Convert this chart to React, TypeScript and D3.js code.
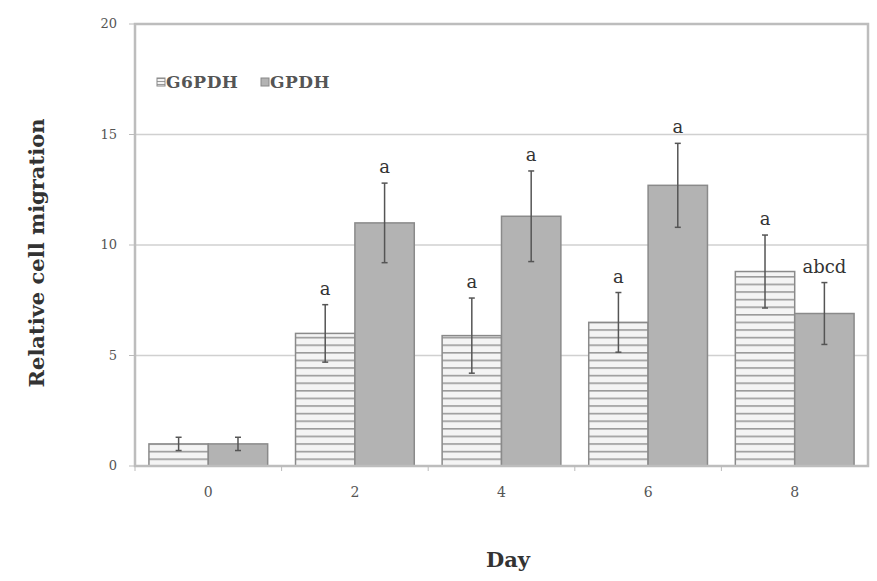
import React from "react";
import * as d3 from "d3";

const days = ["0", "2", "4", "6", "8"];
const g6pdh = [1.0, 6.0, 5.9, 6.5, 8.8];
const g6pdhErr = [0.3, 1.3, 1.7, 1.35, 1.65];
const gpdh = [1.0, 11.0, 11.3, 12.7, 6.9];
const gpdhErr = [0.3, 1.8, 2.05, 1.9, 1.4];
const g6pdhLabels = ["", "a", "a", "a", "a"];
const gpdhLabels = ["", "a", "a", "a", "abcd"];
const yTicks = [0, 5, 10, 15, 20];
const seriesNames = ["G6PDH", "GPDH"];

const W = 877;
const H = 581;
const left = 135;
const right = 868;
const top = 24;
const bottom = 466;
const serif = "'DejaVu Serif', 'Liberation Serif', serif";

export default function App() {
  const x = d3.scaleBand<string>().domain(days).range([left, right]).paddingInner(0.19).paddingOuter(0.095);
  const sub = d3.scaleBand<string>().domain(seriesNames).range([0, x.bandwidth()]);
  const y = d3.scaleLinear().domain([0, 20]).range([bottom, top]);
  const series = [
    { name: "G6PDH", vals: g6pdh, err: g6pdhErr, labels: g6pdhLabels, fill: "url(#stripes)" },
    { name: "GPDH", vals: gpdh, err: gpdhErr, labels: gpdhLabels, fill: "#b3b3b3" },
  ];
  return (
    <svg width={W} height={H} style={{ display: "block", position: "absolute", left: 0, top: 0 }}>
      <defs>
        <pattern id="stripes" width="8" height="7.6" patternUnits="userSpaceOnUse" y={bottom}>
          <rect width="8" height="7.6" fill="#f4f4f4" />
          <rect y="0" width="8" height="1.6" fill="#9a9a9a" />
        </pattern>
        <pattern id="stripesSmall" width="4" height="3" patternUnits="userSpaceOnUse">
          <rect width="4" height="3" fill="#f4f4f4" />
          <rect width="4" height="1" fill="#9a9a9a" />
        </pattern>
      </defs>
      <rect width={W} height={H} fill="#fff" />
      {yTicks.slice(1, -1).map((t) => (
        <line key={t} x1={left} x2={right} y1={y(t)} y2={y(t)} stroke="#d0d0d0" strokeWidth={1.5} />
      ))}
      {series.map((s) =>
        days.map((d, i) => {
          const bx = (x(d) as number) + (sub(s.name) as number);
          const bw = sub.bandwidth();
          const cx = bx + bw / 2;
          const yv = y(s.vals[i]);
          const yt = y(s.vals[i] + s.err[i]);
          const yb = y(s.vals[i] - s.err[i]);
          return (
            <g key={s.name + d}>
              <rect x={bx} y={yv} width={bw} height={bottom - yv} fill={s.fill} stroke="#8a8a8a" strokeWidth={1.5} />
              <line x1={cx} x2={cx} y1={yt} y2={yb} stroke="#555" strokeWidth={1.5} />
              <line x1={cx - 3} x2={cx + 3} y1={yt} y2={yt} stroke="#555" strokeWidth={1.5} />
              <line x1={cx - 3} x2={cx + 3} y1={yb} y2={yb} stroke="#555" strokeWidth={1.5} />
              {s.labels[i] && (
                <text x={cx} y={yt - 10} textAnchor="middle" fontFamily={serif} fontSize={18} fill="#333">
                  {s.labels[i]}
                </text>
              )}
            </g>
          );
        })
      )}
      <rect x={left} y={top} width={right - left} height={bottom - top} fill="none" stroke="#bdbdbd" strokeWidth={2.5} />
      {yTicks.map((t) => (
        <g key={t}>
          <line x1={left - 6} x2={left} y1={y(t)} y2={y(t)} stroke="#bbb" />
          <text x={left - 18} y={y(t) + 4} textAnchor="end" fontFamily={serif} fontSize={13} fill="#555">
            {t}
          </text>
        </g>
      ))}
      {days.map((d) => (
        <g key={d}>
          <line x1={(x(d) as number) - (x.step() - x.bandwidth()) / 2} x2={(x(d) as number) - (x.step() - x.bandwidth()) / 2} y1={bottom} y2={bottom + 5} stroke="#bbb" />
          <text x={(x(d) as number) + x.bandwidth() / 2} y={bottom + 31} textAnchor="middle" fontFamily={serif} fontSize={14} fill="#555">
            {d}
          </text>
        </g>
      ))}
      <text transform={`translate(44,${(top + bottom) / 2 + 8}) rotate(-90)`} textAnchor="middle" fontFamily={serif} fontSize={21} fontWeight="bold" fill="#333">
        Relative cell migration
      </text>
      <text x={508} y={567} textAnchor="middle" fontFamily={serif} fontSize={21} fontWeight="bold" fill="#333">
        Day
      </text>
      <g fontFamily={serif} fontSize={17} fontWeight="bold" fill="#555" letterSpacing={0.5}>
        <rect x={157} y={78} width={8} height={8} fill="url(#stripesSmall)" stroke="#888" />
        <text x={166} y={88}>G6PDH</text>
        <rect x={261} y={78} width={8} height={8} fill="#b3b3b3" stroke="#888" />
        <text x={270} y={88}>GPDH</text>
      </g>
    </svg>
  );
}
